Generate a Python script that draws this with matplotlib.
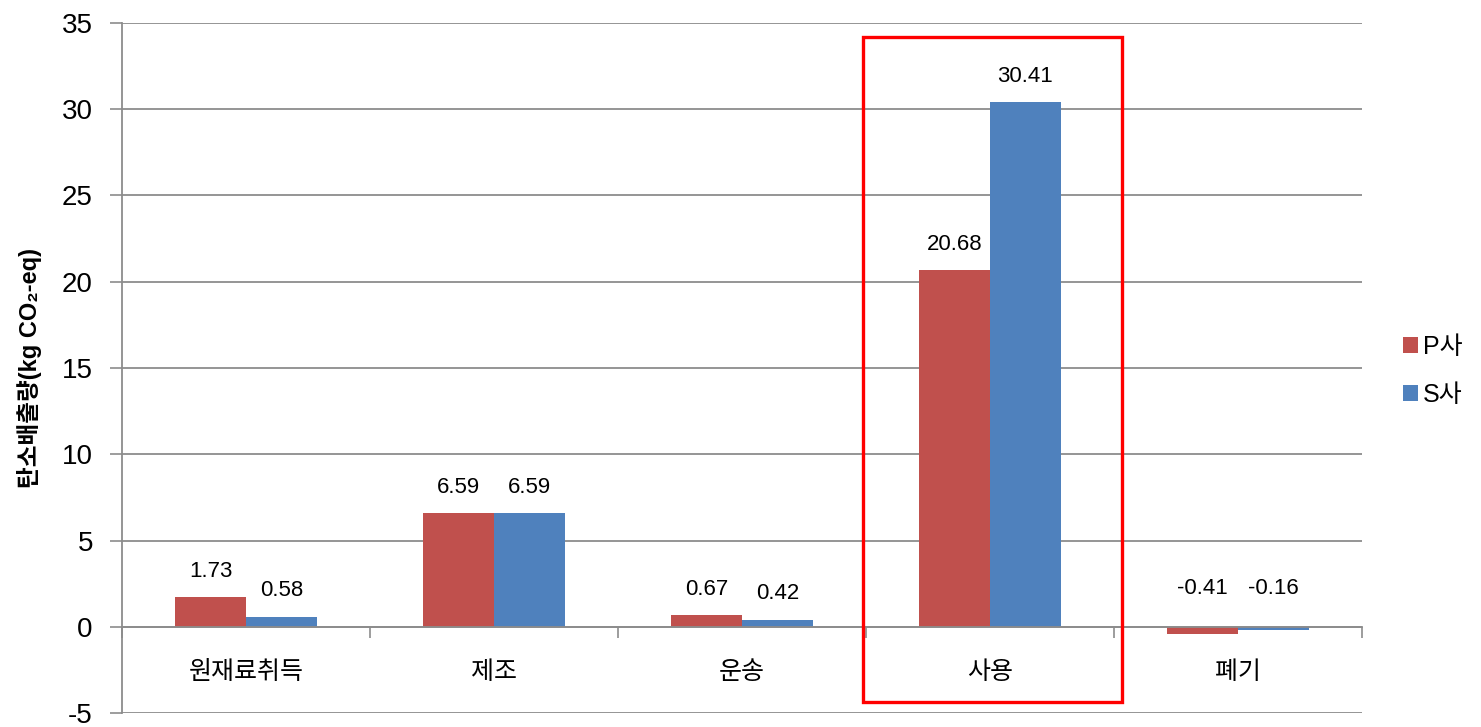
import matplotlib
matplotlib.use("Agg")
import matplotlib.pyplot as plt
import matplotlib.patches as patches
import numpy as np

plt.rcParams['font.family'] = ['Liberation Sans', 'Noto Sans CJK KR', 'DejaVu Sans']

# data
stages = ['원재료취득', '제조', '운송', '사용', '폐기']
series = ['P사', 'S사']
p_vals = [1.73, 6.59, 0.67, 20.68, -0.41]
s_vals = [0.58, 6.59, 0.42, 30.41, -0.16]
yticks = [-5, 0, 5, 10, 15, 20, 25, 30, 35]
highlight = '사용'

red = '#C0504D'
blue = '#4F81BD'
grid_col = '#8C8C8C'

fig = plt.figure(figsize=(14.81, 7.27), dpi=100)
ax = fig.add_axes([0.0824, 0.0192, 0.8372, 0.9492])

x = np.arange(len(stages))
w = 0.286
bars_p = ax.bar(x - w / 2, p_vals, w, color=red, label=series[0], zorder=3)
bars_s = ax.bar(x + w / 2, s_vals, w, color=blue, label=series[1], zorder=3)

ax.set_xlim(-0.5, len(stages) - 0.5)
ax.set_ylim(-5, 35)
ax.set_yticks(yticks)
ax.set_yticklabels([str(t) for t in yticks])
ax.tick_params(axis='y', labelsize=20, length=9, width=1.2, color=grid_col, pad=12)
for lbl in ax.get_yticklabels():
    lbl.set_verticalalignment('center_baseline')
ax.yaxis.grid(True, color=grid_col, linewidth=1.3, zorder=0)
ax.set_axisbelow(True)

# category axis at zero
ax.spines['bottom'].set_position(('data', 0))
ax.spines['bottom'].set_color(grid_col)
ax.spines['bottom'].set_linewidth(1.3)
ax.spines['bottom'].set_zorder(4)
ax.spines['left'].set_color(grid_col)
ax.spines['left'].set_linewidth(1.3)
ax.spines['top'].set_visible(False)
ax.spines['right'].set_visible(False)

ax.set_xticks(x)
ax.set_xticklabels(stages)
ax.set_xticks(np.arange(len(stages) + 1) - 0.5, minor=True)
ax.tick_params(axis='x', which='major', length=0, labelsize=18, pad=24)
ax.tick_params(axis='x', which='minor', length=8, width=1.2, color=grid_col)

ax.set_ylabel('탄소배출량(kg CO₂-eq)', fontsize=17, fontweight='bold', labelpad=14)

# value labels
for bars, vals in [(bars_p, p_vals), (bars_s, s_vals)]:
    for b, v in zip(bars, vals):
        cx = b.get_x() + b.get_width() / 2
        if v >= 0:
            ax.annotate(f'{v:.2f}', (cx, v), xytext=(0, 11), textcoords='offset points',
                        ha='center', va='bottom', fontsize=16)
        else:
            ax.annotate(f'{v:.2f}', (cx, 0), xytext=(0, 20), textcoords='offset points',
                        ha='center', va='bottom', fontsize=16)

# highlight box
hi = stages.index(highlight)
rect = patches.Rectangle((hi - 0.512, -4.36), 1.044, 38.55, fill=False,
                         edgecolor='#FF0000', linewidth=2.4, clip_on=False, zorder=5)
ax.add_patch(rect)

fig.legend(handles=[bars_p, bars_s], labels=series, loc='center left',
           bbox_to_anchor=(0.947, 0.49), frameon=False, fontsize=18,
           handlelength=0.6, handleheight=0.6, handletextpad=0.2,
           labelspacing=0.95, borderpad=0, borderaxespad=0)

fig.savefig('out.png', dpi=100)
